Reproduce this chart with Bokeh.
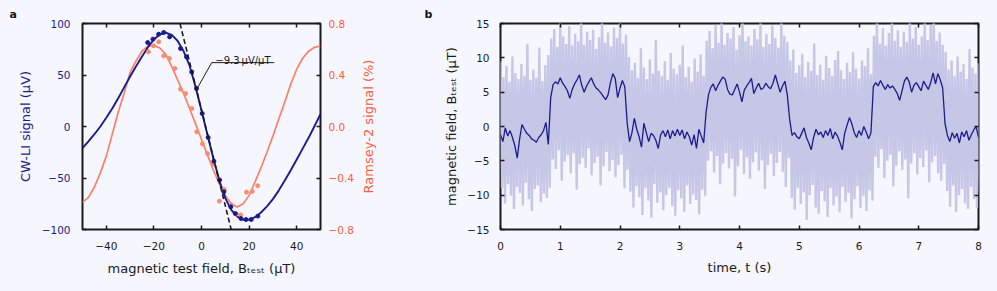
import numpy as np
from bokeh.plotting import figure
from bokeh.models import Range1d, LinearAxis, FixedTicker, Label
from bokeh.layouts import row
from bokeh.embed import file_html
from bokeh.resources import INLINE

# ---------------- data: panel a ----------------
field_fit = list(np.linspace(-50, 50, 41))
cwli_fit = [-21, -14.5, -7.5, 0, 8.5, 17.5, 27.5, 38, 48.5, 58.5, 68, 77, 84.5, 89.5, 91,
            89, 83, 73, 59, 38.5, 15.5, -8, -31, -52.5, -69.5, -81, -87.5, -90.5, -90.5, -88,
            -83.5, -77.5, -70.5, -62, -52.5, -42.5, -32, -21.5, -11, 0.5, 12]
ramsey_fit = [-0.59, -0.55, -0.47, -0.36, -0.23, -0.06, 0.11, 0.26, 0.42, 0.51, 0.585, 0.625, 0.63,
              0.61, 0.56, 0.465, 0.36, 0.255, 0.14, 0.02, -0.10, -0.22, -0.34, -0.445, -0.535, -0.6,
              -0.625, -0.6, -0.535, -0.43, -0.32, -0.20, -0.075, 0.06, 0.19, 0.33, 0.445, 0.53, 0.585,
              0.615, 0.625]
cwli_x = [-22.6, -20.4, -18.0, -15.9, -13.4, -8.8, -6.3, -4.1, -2.1, 0.3, 2.8, 5.2, 7.6, 9.4,
          12.3, 14.2, 16.6, 18.7, 20.9, 23.7]
cwli_y = [81.5, 84.8, 89.6, 91.3, 87.0, 75.7, 67.6, 53.0, 36.9, 12.6, -10.7, -33.7, -52.0, -63.4,
          -78.0, -84.5, -89.3, -90.3, -90.3, -87.0]
ramsey_x = [-22.3, -20.2, -18.0, -15.9, -13.5, -11.2, -8.8, -6.7, -4.1, -2.0, 0.4, 2.5, 5.1, 7.5,
            9.6, 12.6, 14.6, 16.4, 18.9, 21.3, 23.6]
ramsey_y = [0.58, 0.627, 0.658, 0.549, 0.528, 0.45, 0.29, 0.256, 0.14, -0.041, -0.135, -0.21, -0.29,
            -0.58, -0.49, -0.61, -0.68, -0.686, -0.51, -0.505, -0.46]
slope_uV_per_uT = -9.3
slope_offset_uV = 16.0

a_x_ticks = [-40, -20, 0, 20, 40]
a_x_labels = ["\u221240", "\u221220", "0", "20", "40"]
a_y_ticks = [-100, -50, 0, 50, 100]
a_y_labels = ["\u2212100", "\u221250", "0", "50", "100"]
a_r_ticks = [-0.8, -0.4, 0.0, 0.4, 0.8]
a_r_labels = ["\u22120.8", "\u22120.4", "0.0", "0.4", "0.8"]

# ---------------- data: panel b ----------------
t_smooth = list(np.linspace(0, 8, 201))
b_smooth = [
    -1.2, -2.2, -0.2, -1.4, -0.6, -1.6, -2.8, -4.6, -1.8, 0.3, -0.4, -1.0, -1.3, -1.8, -2.0, -2.3,
    -1.6, -1.2, -0.6, 0.6, -2.6, 4.2, 6.1, 6.5, 6.2, 7.1, 6.3, 5.8, 5.2, 4.1, 5.4, 6.2,
    6.8, 7.5, 6.0, 5.0, 5.9, 6.5, 7.1, 6.2, 5.6, 5.3, 4.9, 4.4, 3.9, 4.6, 6.4, 7.7,
    7.0, 4.2, 5.6, 6.7, 5.8, 0.5, -2.2, -0.9, 1.2, -0.4, -1.5, -3.0, 0.5, -0.9, -2.2, -1.0,
    -1.3, -2.0, -3.2, -1.2, -0.6, -1.5, -0.5, -1.8, -0.6, -1.4, -0.4, -1.3, -0.5, -1.8, -0.8, -1.5,
    -2.7, -1.2, -3.2, -0.4, -1.4, -2.4, 2.0, 4.6, 5.7, 6.2, 5.2, 6.0, 6.6, 7.2, 6.9, 5.4,
    4.7, 4.6, 5.4, 6.2, 5.0, 3.6, 5.3, 5.9, 6.4, 7.0, 4.8, 5.6, 6.3, 5.4, 5.6, 6.3,
    5.8, 5.5, 6.3, 7.5, 6.2, 5.0, 5.9, 6.6, 4.6, 1.0, -1.3, -0.9, -1.5, -1.8, -1.0, -0.2,
    -1.6, -2.4, -3.4, -1.6, -0.4, -1.2, -0.8, -1.6, -0.6, -1.3, -0.3, -1.8, -0.8, -1.4, -2.3, -3.4,
    -1.0, 0.2, 1.3, 0.4, -0.9, -1.6, -0.6, -1.3, 0.0, -0.8, -1.8, -0.9, 5.8, 6.4, 5.9, 6.7,
    6.0, 5.4, 6.1, 5.6, 5.9, 5.4, 4.8, 3.8, 5.2, 6.6, 7.2, 6.5, 5.0, 6.0, 6.4, 5.8,
    5.2, 6.6, 6.0, 5.4, 6.4, 7.8, 6.2, 7.7, 6.8, 5.6, 0.4, -1.3, -2.2, -0.9, -1.7, -1.0,
    -2.4, -0.8, -1.5, -0.6, -2.0, -1.2, -0.5, 0.0, -1.6]
t_raw = list(np.linspace(0, 8, 161))
raw_upper = [
    9.5, 7.2, 8.8, 6.5, 10.2, 7.8, 6.9, 9.1, 7.4, 12.0, 6.8, 8.3, 7.1, 11.5, 6.6, 8.9, 10.4,
    12.8, 14.2, 11.6, 15.5, 13.1, 12.0, 14.6, 11.8, 13.5, 12.4, 15.2, 11.9, 13.8, 12.6, 14.1, 11.3,
    13.0, 15.6, 12.2, 13.7, 11.7, 14.4, 12.9, 15.3, 12.1, 13.4,
    10.1, 8.2, 9.3, 7.1, 11.4, 8.6, 6.9, 9.8, 7.7, 12.6, 8.1, 7.3, 9.5, 6.8, 10.7, 8.4, 7.6, 9.0,
    11.8, 7.2, 8.7, 6.5, 9.9, 8.0, 10.5, 7.4,
    12.5, 13.9, 11.4, 14.8, 12.2, 15.4, 11.9, 13.6, 12.8, 14.5, 11.2, 13.3, 15.8, 12.4, 13.1, 11.8,
    14.2, 12.7, 15.1, 11.6, 13.5, 12.0, 14.7, 12.9, 11.5, 15.6, 13.2, 12.3,
    9.6, 11.2, 7.8, 8.9, 10.6, 7.2, 9.4, 8.1, 12.1, 7.5, 9.0, 6.8, 10.3, 8.5, 7.4, 9.7, 11.0, 8.2,
    6.9, 9.3, 7.9, 10.8, 8.4, 7.0, 9.6, 8.8, 11.4, 7.6,
    13.2, 15.7, 12.1, 14.3, 11.8, 13.6, 15.2, 12.5, 14.0, 11.6, 13.8, 12.3, 15.9, 12.8, 14.5, 11.9,
    13.1, 15.4, 12.6, 14.8, 16.0, 12.4, 13.7, 11.9,
    10.9, 8.3, 9.6, 7.4, 10.2, 8.0, 9.1, 6.9, 11.3, 8.6, 7.7, 9.2]
raw_lower = [
    -9.0, -11.2, -8.4, -10.1, -12.0, -8.8, -9.7, -11.5, -8.2, -10.6, -12.3, -9.1, -8.6, -11.0, -9.8,
    -10.4, -8.9,
    -4.8, -6.2, -3.5, -7.9, -5.1, -4.2, -6.8, -3.9, -9.2, -5.5, -4.6, -6.0, -3.2, -7.1, -5.3, -4.4,
    -8.6, -5.8, -3.7, -6.5, -4.9, -7.4, -5.6, -4.1, -9.0, -6.3,
    -9.5, -11.8, -8.7, -10.3, -12.9, -9.0, -10.8, -13.3, -8.4, -11.1, -9.6, -12.2, -10.0, -8.9, -11.6,
    -13.0, -9.3, -10.5, -12.4, -8.6, -11.3, -9.9, -10.7, -12.8, -9.2, -10.1,
    -5.0, -3.6, -6.7, -4.3, -8.4, -5.4, -3.9, -6.1, -4.7, -10.2, -5.8, -3.4, -6.9, -4.5, -7.6, -5.2,
    -3.8, -6.4, -4.9, -9.1, -5.6, -4.0, -7.2, -5.3, -3.7, -6.6, -8.8, -4.6,
    -10.4, -12.1, -8.9, -11.3, -9.6, -13.6, -10.0, -8.5, -11.8, -12.7, -9.4, -10.9, -13.2, -9.0, -11.5,
    -10.2, -12.5, -8.8, -11.0, -9.7, -13.4, -10.6, -8.7, -11.9, -10.1, -12.3, -9.3, -10.8,
    -4.4, -6.0, -3.3, -7.5, -5.0, -4.1, -8.7, -5.7, -3.6, -6.3, -4.8, -10.5, -5.4, -3.9, -7.0, -4.6,
    -5.9, -3.5, -8.1, -5.2, -4.3, -6.8, -7.9, -5.5,
    -9.4, -11.7, -8.6, -12.4, -10.0, -9.1, -11.2, -12.0, -8.8, -10.6, -11.9, -9.5]

b_x_ticks = [0, 1, 2, 3, 4, 5, 6, 7, 8]
b_x_labels = ["0", "1", "2", "3", "4", "5", "6", "7", "8"]
b_y_ticks = [-15, -10, -5, 0, 5, 10, 15]
b_y_labels = ["\u221215", "\u221210", "\u22125", "0", "5", "10", "15"]

# ---------------- style ----------------
BG = "#f6f7fe"
NAVY = "#1b1b8c"
SALMON = "#fa8066"
SALMON_DOT = "#fb8c74"
RED_TXT = "#ff5c3a"
LAV = "#c6c7e6"
INK = "#1a1a1a"
FONT = "DejaVu Sans"
TICK_FS = "10.5px"
LAB_FS = "13px"

A_FW, A_FH = 238, 206
B_FW, B_FH = 478, 206
TOP, BOTTOM = 23, 62


def style_fig(p, tag, tag_offset):
    p.outline_line_color = INK
    p.outline_line_width = 2
    p.background_fill_color = BG
    p.border_fill_color = BG
    p.xgrid.visible = False
    p.ygrid.visible = False
    p.title.text = tag
    p.title.align = "left"
    p.title.vertical_align = "bottom"
    p.title.offset = tag_offset
    p.title.standoff = 6
    p.title.text_font = FONT
    p.title.text_font_size = "11px"
    p.title.text_font_style = "bold"
    p.title.text_color = "#111111"


def style_axis(ax, ticks, labels, color, standoff):
    ax.ticker = FixedTicker(ticks=ticks)
    ax.major_label_overrides = {t: l for t, l in zip(ticks, labels)}
    ax.axis_line_color = None
    ax.major_tick_in = 4
    ax.major_tick_out = 0
    ax.major_tick_line_color = INK
    ax.major_tick_line_width = 1.5
    ax.minor_tick_line_color = None
    ax.major_label_text_font = FONT
    ax.major_label_text_font_size = TICK_FS
    ax.major_label_text_color = color
    ax.major_label_standoff = standoff


def set_label(ax, text, color, standoff):
    ax.axis_label = text
    ax.axis_label_text_font = FONT
    ax.axis_label_text_font_size = LAB_FS
    ax.axis_label_text_font_style = "normal"
    ax.axis_label_text_color = color
    ax.axis_label_standoff = standoff


def bare_axis(ticks, **kw):
    ax = LinearAxis(**kw)
    ax.ticker = FixedTicker(ticks=ticks)
    ax.axis_line_color = None
    ax.major_tick_in = 4 if ticks else 0
    ax.major_tick_out = 0
    ax.major_tick_line_color = INK
    ax.major_tick_line_width = 1.5
    ax.minor_tick_line_color = None
    ax.major_label_text_font_size = "0px"
    ax.major_label_text_alpha = 0
    ax.major_label_standoff = 0
    return ax


# ---------------- panel a ----------------
pa = figure(frame_width=A_FW, frame_height=A_FH, x_range=Range1d(-50, 50),
            y_range=Range1d(-100, 100), output_backend="svg", toolbar_location=None,
            min_border_left=82, min_border_right=36, min_border_top=TOP, min_border_bottom=BOTTOM)
style_fig(pa, "a", -73)
pa.extra_y_ranges = {"ramsey": Range1d(-0.8, 0.8)}
style_axis(pa.xaxis[0], a_x_ticks, a_x_labels, INK, 12)
set_label(pa.xaxis[0], "magnetic test field, B\u209c\u2091\u209b\u209c (\u03bcT)", INK, 8)
style_axis(pa.yaxis[0], a_y_ticks, a_y_labels, NAVY, 12)
set_label(pa.yaxis[0], "CW-LI signal (\u03bcV)", NAVY, 6)
r_ax = LinearAxis(y_range_name="ramsey")
style_axis(r_ax, a_r_ticks, a_r_labels, RED_TXT, 8)
pa.add_layout(r_ax, "right")
pa.add_layout(bare_axis(a_x_ticks), "above")

pa.line(field_fit, ramsey_fit, color=SALMON, line_width=1.7, y_range_name="ramsey")
pa.line(field_fit, cwli_fit, color=NAVY, line_width=1.9)
pa.scatter(ramsey_x, ramsey_y, size=4, color=SALMON_DOT, y_range_name="ramsey")
pa.scatter(cwli_x, cwli_y, size=4, color=NAVY)
lin_y = [100, -100]
lin_x = [(yy - slope_offset_uV) / slope_uV_per_uT for yy in lin_y]
pa.line(lin_x, lin_y, color=INK, line_width=1.6, line_dash="5 3")
# annotation leader line + text
pa.line([-1.8, 4.3, 30.6], [37, 62, 62], color=INK, line_width=1)
pa.add_layout(Label(x=17.4, y=64.5, text=f"\u2212{abs(slope_uV_per_uT)}\u2009\u03bcV/\u03bcT",
                    text_font=FONT, text_font_size="10px", text_align="center",
                    text_baseline="alphabetic", text_color=INK))

# ---------------- panel b ----------------
pb = figure(frame_width=B_FW, frame_height=B_FH, x_range=Range1d(0, 8), y_range=Range1d(-15, 15),
            output_backend="svg", toolbar_location=None,
            min_border_left=144, min_border_right=19, min_border_top=TOP, min_border_bottom=BOTTOM)
style_fig(pb, "b", -76)
style_axis(pb.xaxis[0], b_x_ticks, b_x_labels, INK, 12)
set_label(pb.xaxis[0], "time, t (s)", INK, 7)
style_axis(pb.yaxis[0], b_y_ticks, b_y_labels, INK, 11)
set_label(pb.yaxis[0], "magnetic field, B\u209c\u2091\u209b\u209c (\u03bcT)", INK, 5)
pb.add_layout(bare_axis(b_x_ticks), "above")
pb.add_layout(bare_axis(b_y_ticks), "right")
# right-hand label of panel a (Ramsey axis title), drawn in the gap between the panels
ramsey_title_axis = bare_axis([])
set_label(ramsey_title_axis, "Ramsey-2 signal (%)", RED_TXT, 66)
pb.add_layout(ramsey_title_axis, "left")

noise_t = np.empty(2 * len(t_raw))
noise_t[0::2] = t_raw
noise_t[1::2] = np.array(t_raw) + 0.025
noise_v = np.empty(2 * len(t_raw))
noise_v[0::2] = raw_upper
noise_v[1::2] = raw_lower
pb.line(noise_t, noise_v, color=LAV, line_width=2.4)
pb.line(t_smooth, b_smooth, color=NAVY, line_width=1.3)

layout = row(pa, pb)
html = file_html(layout, INLINE, title="chart")
html = html.replace("</head>", "<style>body{background:%s;}</style></head>" % BG, 1)
open("out.html", "w").write(html)
